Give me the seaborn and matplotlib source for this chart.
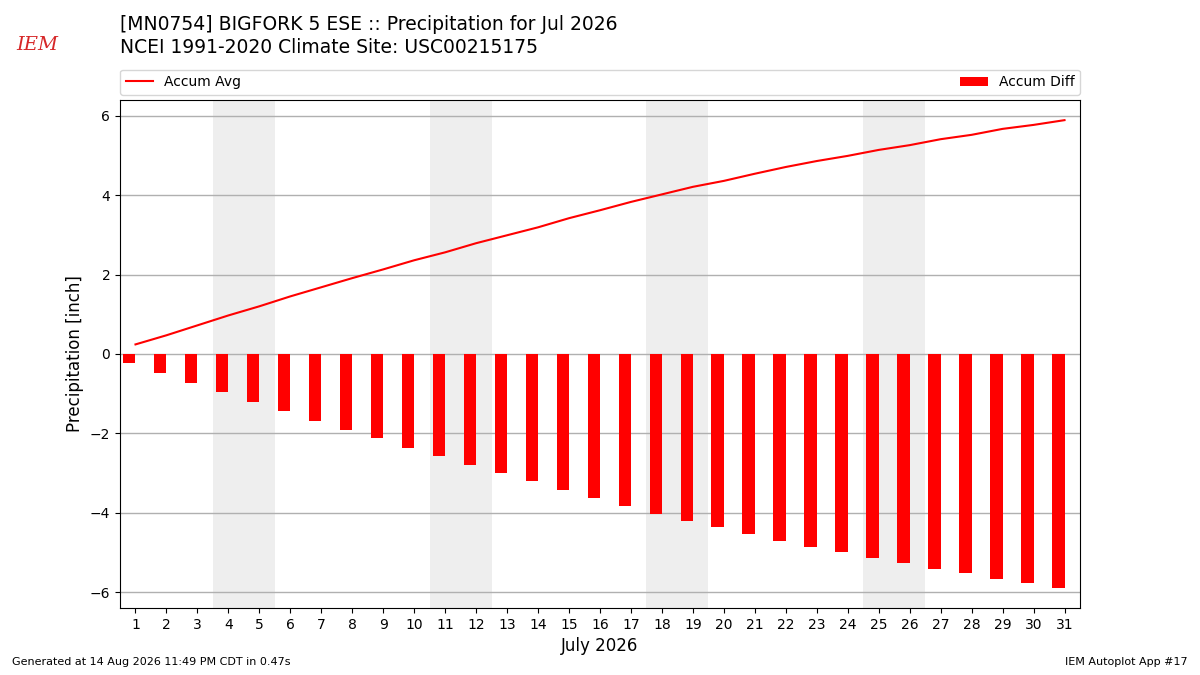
import pandas as pd
import matplotlib
matplotlib.use('Agg')
import matplotlib.pyplot as plt
import seaborn as sns

# July 2026, accumulated precipitation [inch]
days = list(range(1, 32))
accum_avg = [0.24, 0.47, 0.72, 0.97, 1.20, 1.45, 1.68, 1.91, 2.13, 2.36,
             2.56, 2.79, 2.99, 3.19, 3.42, 3.62, 3.83, 4.02, 4.21, 4.36,
             4.54, 4.71, 4.86, 4.99, 5.14, 5.26, 5.41, 5.52, 5.67, 5.77,
             5.89]
accum_diff = [-0.24, -0.47, -0.72, -0.97, -1.20, -1.45, -1.68, -1.91, -2.13,
              -2.36, -2.56, -2.79, -2.99, -3.19, -3.42, -3.62, -3.83, -4.02,
              -4.21, -4.36, -4.54, -4.71, -4.86, -4.99, -5.14, -5.26, -5.41,
              -5.52, -5.67, -5.77, -5.89]

df = pd.DataFrame({'day': days, 'avg': accum_avg, 'diff': accum_diff})
df['date'] = pd.to_datetime(dict(year=2026, month=7, day=df['day']))
# bars sit just left of the day tick
df['barx'] = df['day'] - 0.2

fig = plt.figure(figsize=(12, 6.75), dpi=100)
ax = fig.add_axes([0.1, 0.0993, 0.8, 0.7527])

for d in df.loc[df['date'].dt.dayofweek >= 5, 'day']:
    ax.axvspan(d - 0.5, d + 0.5, color='#eeeeee', zorder=0, lw=0)

sns.barplot(data=df, x='barx', y='diff', native_scale=True, width=0.4,
            color='red', saturation=1, label='Accum Diff', ax=ax, zorder=2)
sns.lineplot(data=df, x='day', y='avg', color='red', lw=1.5,
             label='Accum Avg', ax=ax, zorder=3)

ax.set_xlim(0.5, 31.5)
ax.set_ylim(-6.4, 6.4)
ax.set_xticks(days)
ax.set_xticklabels([str(d) for d in days])
ax.set_yticks([-6, -4, -2, 0, 2, 4, 6])
ax.grid(axis='y', color='#b0b0b0', lw=1, zorder=1)
ax.grid(axis='x', visible=False)
ax.set_axisbelow(True)
ax.set_xlabel('July 2026', fontsize=12)
ax.set_ylabel('Precipitation [inch]', fontsize=12)
ax.tick_params(labelsize=10)

h, l = ax.get_legend_handles_labels()
order = [l.index('Accum Avg'), l.index('Accum Diff')]
ax.legend([h[i] for i in order], [l[i] for i in order], ncol=2,
          mode='expand', loc='lower left', bbox_to_anchor=(0, 1.01, 1, 0.05),
          fontsize=10, borderaxespad=0)

fig.text(0.1, 0.963, '[MN0754] BIGFORK 5 ESE :: Precipitation for Jul 2026',
         fontsize=13.5, va='center')
fig.text(0.1, 0.929, 'NCEI 1991-2020 Climate Site: USC00215175',
         fontsize=13.5, va='center')
fig.text(0.031, 0.933, 'IEM', color='#d62728', fontsize=14,
         family='serif', style='italic', ha='center', va='center')
fig.text(0.01, 0.015, 'Generated at 14 Aug 2026 11:49 PM CDT in 0.47s',
         fontsize=8)
fig.text(0.99, 0.015, 'IEM Autoplot App #17', fontsize=8, ha='right')

fig.savefig('out.png', dpi=100)
